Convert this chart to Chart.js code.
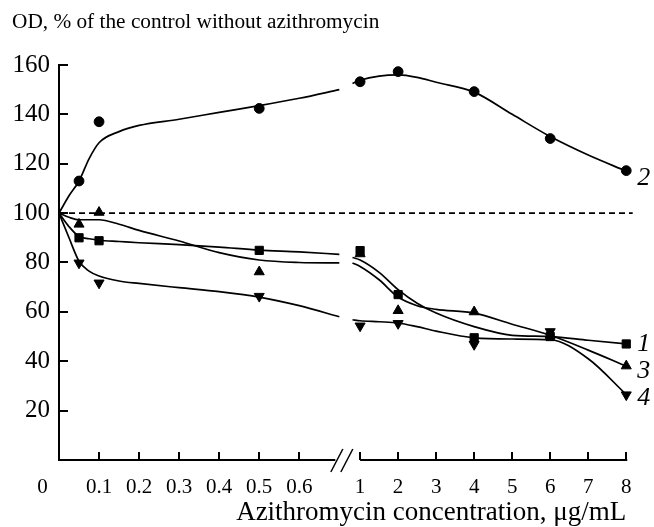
<!DOCTYPE html>
<html>
<head>
<meta charset="utf-8">
<title>OD vs azithromycin concentration</title>
<script src="https://cdn.jsdelivr.net/npm/chart.js@4.4.0/dist/chart.umd.min.js"></script>
<style>
    html, body { margin: 0; padding: 0; background: #fff; }
</style>
</head>
<body>
<canvas id="chart" width="654" height="527"></canvas>
<script>
// ---- data ----
const seriesNames = ['1', '2', '3', '4'];

// measured points (concentration, ug/mL)
const markerX = [0.05, 0.1, 0.5, 1, 2, 4, 6, 8];
const squares1 = [90, 88.8, 84.9, 84.8, 67, 49.5, 50, 47];
const circles2 = [113, 137, 142.4, 153.2, 157.3, 149.2, 130.2, 117.2];
const trianglesUp3 = [95.5, 100.3, 76.2, 83.5, 60.5, 60, 50.5, 38.1];
const trianglesDown4 = [79.8, 71.7, 66.3, 54.3, 55.3, 46.8, 52, 26.4];

// smoothed curves as drawn in the figure (null = axis break)
const curveX = [0, 0.025, 0.05, 0.075, 0.1, 0.15, 0.2, 0.3, 0.4, 0.5, 0.6, 0.7, 0.75,
                0.8, 1, 1.5, 2, 2.5, 3, 4, 5, 6, 7, 8];
const curve1 = [100, 94.5, 90.5, 89.6, 89, 88.5, 88, 87.2, 86.2, 85, 84.3, 83.3, null,
                82, 81, 76, 69, 63.5, 59.5, 54, 50.5, 50, 48.5, 47];
const curve2 = [100, 107, 113, 122, 128.5, 133, 135.5, 138, 140.8, 143.5, 146.5, 150, null,
                152.5, 153.8, 155.5, 156, 155, 153, 149, 140, 131, 123.5, 117];
const curve3 = [100, 98.3, 97.3, 97.3, 97.3, 95.5, 93, 88.7, 84, 81, 80, 79.8, null,
                79.8, 78.4, 73, 66, 62.5, 61, 59.5, 55, 50.5, 44.5, 38];
const curve4 = [100, 90, 80.5, 76.5, 74.5, 72.5, 71.5, 69.8, 68.2, 66, 62.5, 58, null,
                56.8, 56.4, 56, 55.5, 54, 52.2, 49.5, 49, 48.7, 41, 26.5];

// control level (100 %)
const controlX = [0, 8.17];
const controlY = [100, 100];

const xTicks = [0, 0.1, 0.2, 0.3, 0.4, 0.5, 0.6, 1, 2, 3, 4, 5, 6, 7, 8];

// ---- broken x axis: 0..0.7 stretched, 0.8..8 compressed ----
const AXIS_MAP = [[0, 0], [0.7, 0.4942], [0.8, 0.5174], [8, 1]];

function concToFrac(v) {
    for (let i = 1; i < AXIS_MAP.length; i++) {
        const [v0, f0] = AXIS_MAP[i - 1];
        const [v1, f1] = AXIS_MAP[i];
        if (v <= v1 || i === AXIS_MAP.length - 1) {
            return f0 + (v - v0) / (v1 - v0) * (f1 - f0);
        }
    }
}

function fracToConc(f) {
    for (let i = 1; i < AXIS_MAP.length; i++) {
        const [v0, f0] = AXIS_MAP[i - 1];
        const [v1, f1] = AXIS_MAP[i];
        if (f <= f1 || i === AXIS_MAP.length - 1) {
            return v0 + (f - f0) / (f1 - f0) * (v1 - v0);
        }
    }
}

class BrokenAxis extends Chart.LinearScale {
    static id = 'brokenX';
    static defaults = {};
    getPixelForValue(value) {
        if (value === null || value === undefined) return NaN;
        return this.getPixelForDecimal(concToFrac(value));
    }
    getValueForPixel(pixel) {
        return fracToConc(this.getDecimalForPixel(pixel));
    }
}
Chart.register(BrokenAxis);

const toPoints = (xs, ys) => xs.map((x, i) => ({ x: x, y: ys[i] }));

const SERIF = "'Liberation Serif', 'Times New Roman', serif";

function curveDataset(values) {
    return {
        data: toPoints(curveX, values),
        borderColor: '#000',
        borderWidth: 1.7,
        pointRadius: 0,
        cubicInterpolationMode: 'monotone',
        spanGaps: false,
        clip: false,
        order: 1
    };
}

function markerDataset(values, style, radius, rotation) {
    return {
        data: toPoints(markerX, values),
        showLine: false,
        pointStyle: style,
        pointRadius: radius,
        pointRotation: rotation || 0,
        pointBackgroundColor: '#000',
        pointBorderColor: '#000',
        pointBorderWidth: 1,
        clip: false,
        order: 0
    };
}

// axis line with break marks, corner "0", curve numbers
const decorPlugin = {
    id: 'decor',
    beforeDraw(chart) {
        const ctx = chart.ctx;
        ctx.save();
        ctx.fillStyle = '#fff';
        ctx.fillRect(0, 0, chart.width, chart.height);
        ctx.restore();
    },
    afterDraw(chart) {
        const ctx = chart.ctx;
        const xs = chart.scales.x;
        const area = chart.chartArea;
        const y0 = xs.top;
        const gapStart = xs.getPixelForValue(0.69);
        const gapEnd = xs.getPixelForValue(1);

        ctx.save();
        ctx.strokeStyle = '#000';
        ctx.lineWidth = 2;
        ctx.beginPath();
        ctx.moveTo(area.left - 1, y0);
        ctx.lineTo(gapStart, y0);
        ctx.moveTo(gapEnd, y0);
        ctx.lineTo(area.right + 1, y0);
        ctx.stroke();

        ctx.lineWidth = 1.5;
        [gapStart + 1.5, gapStart + 11.5].forEach(cx => {
            ctx.beginPath();
            ctx.moveTo(cx - 6, y0 + 12);
            ctx.lineTo(cx + 6, y0 - 11);
            ctx.stroke();
        });

        ctx.fillStyle = '#000';
        ctx.font = '21px ' + SERIF;
        ctx.textAlign = 'center';
        ctx.textBaseline = 'middle';
        ctx.fillText('0', area.left - 16.5, y0 + 27);

        // curve numbers next to the last points
        const labelDy = [0, 8, 5, 3];
        ctx.font = 'italic 26px ' + SERIF;
        ctx.textAlign = 'left';
        [4, 5, 6, 7].forEach((dsIndex, i) => {
            const meta = chart.getDatasetMeta(dsIndex);
            const last = meta.data[meta.data.length - 1];
            ctx.fillText(seriesNames[i], last.x + 11, last.y + labelDy[i]);
        });
        ctx.restore();
    }
};

new Chart(document.getElementById('chart'), {
    type: 'line',
    data: {
        datasets: [
            curveDataset(curve1),
            curveDataset(curve2),
            curveDataset(curve3),
            curveDataset(curve4),
            markerDataset(squares1, 'rect', 5.8),
            markerDataset(circles2, 'circle', 4.9),
            markerDataset(trianglesUp3, 'triangle', 5.8),
            markerDataset(trianglesDown4, 'triangle', 5.8, 180),
            {
                data: toPoints(controlX, controlY),
                borderColor: '#000',
                borderWidth: 1.8,
                borderDash: [6, 4],
                pointRadius: 0,
                clip: false,
                order: 2
            }
        ]
    },
    options: {
        responsive: false,
        animation: false,
        layout: { padding: { left: 12, right: 26, top: 0, bottom: 0 } },
        plugins: {
            legend: { display: false },
            tooltip: { enabled: false },
            title: {
                display: true,
                text: 'OD, % of the control without azithromycin',
                align: 'start',
                color: '#000',
                font: { family: SERIF, size: 21.3, weight: 'normal' },
                padding: { top: 10, bottom: 29.4 }
            }
        },
        scales: {
            x: {
                type: 'brokenX',
                min: 0,
                max: 8,
                afterBuildTicks: scale => {
                    scale.ticks = xTicks.map(v => ({ value: v }));
                },
                afterFit: scale => { scale.height = 67; },
                border: { display: false },
                grid: {
                    drawOnChartArea: false,
                    tickLength: -8,
                    color: '#000',
                    lineWidth: 2
                },
                ticks: {
                    autoSkip: false,
                    maxRotation: 0,
                    padding: 22.5,
                    color: '#000',
                    font: { family: SERIF, size: 21 },
                    callback: value => value === 0 ? '' : String(value)
                },
                title: {
                    display: true,
                    text: 'Azithromycin concentration, μg/mL',
                    align: 'end',
                    color: '#000',
                    font: { family: SERIF, size: 27, lineHeight: 1 },
                    padding: { top: 0, bottom: 1 }
                }
            },
            y: {
                min: 0,
                max: 160,
                afterFit: scale => { scale.width = 47; },
                border: { display: true, color: '#000', width: 2 },
                grid: {
                    drawOnChartArea: false,
                    tickLength: -9,
                    color: '#000',
                    lineWidth: 2
                },
                ticks: {
                    stepSize: 20,
                    padding: 18,
                    color: '#000',
                    font: { family: SERIF, size: 25 },
                    callback: value => value === 0 ? '' : String(value)
                }
            }
        }
    },
    plugins: [decorPlugin]
});
</script>
</body>
</html>
